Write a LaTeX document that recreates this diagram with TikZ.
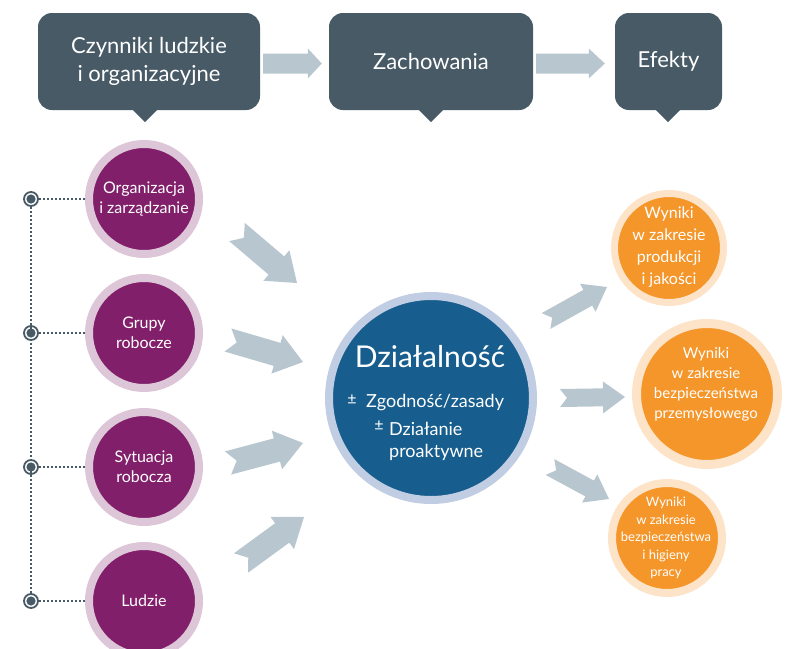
\documentclass[tikz,border=0pt]{standalone}
\usepackage{fontspec}
\setmainfont{Lato}
\usetikzlibrary{calc}
\definecolor{boxc}{HTML}{475A66}
\definecolor{arrc}{HTML}{B8C7CF}
\definecolor{purp}{HTML}{821F6B}
\definecolor{purpr}{HTML}{DCC6D8}
\definecolor{bluec}{HTML}{175E8F}
\definecolor{bluer}{HTML}{C1CDE2}
\definecolor{oran}{HTML}{F5962A}
\definecolor{oranr}{HTML}{FDE4C8}
% tail, tip, shaft half width, head half width, head length, notch depth
\newcommand\blockarr[6]{%
  \coordinate (ba-h) at ($(#2)!#5!(#1)$);
  \coordinate (ba-n) at ($(#1)!#6!(#2)$);
  \fill[arrc] ($(#1)!#3!90:(#2)$) -- ($(ba-h)!#3!90:(#2)$) -- ($(ba-h)!#4!90:(#2)$)
    -- (#2) -- ($(ba-h)!#4!-90:(#2)$) -- ($(ba-h)!#3!-90:(#2)$)
    -- ($(#1)!#3!-90:(#2)$) -- (ba-n) -- cycle;
}
\tikzset{
  topbox/.style={fill=boxc, rounded corners=14pt, minimum height=97pt, inner sep=0pt,
    text=white, align=center, font=\fontsize{22}{28}\selectfont},
  lcirc/.style={circle, fill=purp, draw=purpr, line width=8pt, minimum size=110pt,
    inner sep=0pt, text=white, align=center, font=\fontsize{16}{20}\selectfont},
  ccirc/.style={circle, fill=bluec, draw=bluer, line width=8pt, minimum size=204pt, inner sep=0pt},
  ocirc/.style={circle, fill=oran, draw=oranr, inner sep=0pt},
  dotring/.style={circle, draw=boxc, line width=1.8pt, fill=white, minimum size=14pt, inner sep=0pt,
    path picture={\fill[boxc] (path picture bounding box.center) circle (4.6pt);}},
  dotline/.style={draw=boxc, line width=1.8pt, dash pattern=on 1.6pt off 2.4pt},
  wtext/.style={text=white, inner sep=0pt, align=center},
}
\begin{document}
\begin{tikzpicture}[x=1pt,y=-1pt]
\useasboundingbox (0,0) rectangle (797,648);
% top boxes
\node[topbox, minimum width=222pt] (b1) at (149,61.5) {Czynniki ludzkie\\i organizacyjne};
\node[topbox, minimum width=204pt] (b2) at (431,61.5) {Zachowania};
\node[topbox, minimum width=107pt] (b3) at (668.5,61.5) {Efekty};
\fill[boxc] ($(b1.south)+(-17,-1)$) -- ++(26,0) -- ++(-13,13) -- cycle;
\fill[boxc] ($(b2.south)+(-13,-1)$) -- ++(26,0) -- ++(-13,13) -- cycle;
\fill[boxc] ($(b3.south)+(-13.5,-1)$) -- ++(26,0) -- ++(-13,13) -- cycle;
\coordinate (t1a) at ($(b1.east)+(3,2)$);
\coordinate (t1b) at ($(b2.west)+(-7,2)$);
\coordinate (t2a) at ($(b2.east)+(3,2)$);
\coordinate (t2b) at ($(b3.west)+(-10,2)$);
\blockarr{t1a}{t1b}{10pt}{15pt}{14pt}{0pt}
\blockarr{t2a}{t2b}{10pt}{15pt}{16pt}{0pt}
% left column
\node[dotring] (d1) at (31,199) {};
\node[dotring] (d2) at (31,333) {};
\node[dotring] (d3) at (31,467) {};
\node[dotring] (d4) at (31,601) {};
\path[dotline] (d1.south) -- (d4.north);
\node[lcirc] (c1) at (144,199) {Organizacja\\i zarządzanie};
\node[lcirc] (c2) at (144,333) {Grupy\\robocze};
\node[lcirc] (c3) at (144,467) {Sytuacja\\robocza};
\node[lcirc] (c4) at (144,601) {Ludzie};
\foreach \i in {1,2,3,4}{\path[dotline] (d\i.east) -- (d\i -| c\i.west);}
% left arrows
\blockarr{237,232}{297,283}{12pt}{20pt}{27pt}{9pt}
\blockarr{228,340}{303,362}{12pt}{20pt}{27pt}{9pt}
\blockarr{228,463}{303,443}{12pt}{20pt}{27pt}{9pt}
\blockarr{241,563}{304,517}{12pt}{20pt}{27pt}{9pt}
% center
\node[ccirc] (cc) at (431,398) {};
\node[wtext, font=\fontsize{30}{32}\selectfont] (ct) at (430,357) {Działalność};
\node[wtext, font=\fontsize{16}{16}\selectfont] (pm1) at (352,400) {±};
\node[wtext, anchor=west, font=\fontsize{18}{22}\selectfont] (z1) at (366,403) {Zgodność/zasady};
\node[wtext, font=\fontsize{16}{16}\selectfont] (pm2) at (379,426) {±};
\node[wtext, anchor=west, align=left, font=\fontsize{18}{22}\selectfont] (z2) at (389,441) {Działanie\\proaktywne};
% right arrows
\blockarr{546,321}{607,287}{9pt}{16pt}{22pt}{7pt}
\blockarr{560,398}{625,397}{9pt}{16pt}{22pt}{7pt}
\blockarr{550,467}{609,499}{9pt}{16pt}{22pt}{7pt}
% right circles
\node[ocirc, line width=7pt, minimum size=109pt] (r1) at (669,248) {};
\node[wtext, font=\fontsize{16}{22}\selectfont] (r1t) at (669,247) {Wyniki\\w zakresie\\produkcji\\i jakości};
\node[ocirc, line width=9pt, minimum size=141pt] (r2) at (707,394) {};
\node[wtext, font=\fontsize{15}{20}\selectfont] (r2t) at (706,384) {Wyniki\\w zakresie\\bezpieczeństwa\\przemysłowego};
\node[ocirc, line width=8pt, minimum size=110pt] (r3) at (667,538) {};
\node[wtext, font=\fontsize{13}{17.5}\selectfont] (r3t) at (666,538) {Wyniki\\w zakresie\\bezpieczeństwa\\i higieny\\pracy};
\end{tikzpicture}
\end{document}
